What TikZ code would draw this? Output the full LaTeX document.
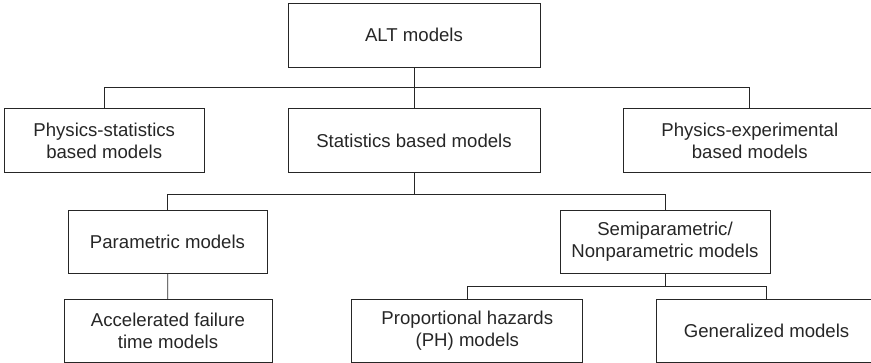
\documentclass[tikz,border=0pt]{standalone}
\usepackage{fontspec}
\setmainfont{Liberation Sans}
\usetikzlibrary{positioning, calc}

\begin{document}
\begin{tikzpicture}[
box/.style={draw=black!85, line width=0.8pt, align=center, inner sep=0pt, minimum height=64pt, text=black!85, font=\fontsize{18.6}{22}\selectfont},
lowbox/.style={box, minimum height=63pt},
link/.style={draw=black!85, line width=0.8pt}
]
\useasboundingbox (0,0) rectangle (871pt,-363pt);
\clip (0,0) rectangle (871pt,-363pt);

\node[box, minimum width=252pt] (alt) at (414pt,-35pt) {ALT models};

\node[box, minimum width=252pt, below=41pt of alt] (statbased) {Statistics based models};
\node[box, minimum width=200pt, left=83pt of statbased] (physstat) {Physics-statistics\\based models};
\node[box, minimum width=252pt, right=83pt of statbased] (physexp) {Physics-experimental\\based models};

\node[lowbox, minimum width=199pt, below=37pt of statbased, xshift=-246.5pt] (param) {Parametric models};
\node[lowbox, minimum width=210pt, below=37pt of statbased, xshift=251pt] (semi) {Semiparametric/\\Nonparametric models};

\node[lowbox, minimum width=208pt, below=25pt of param, xshift=0.5pt] (aft) {Accelerated failure\\time models};
\node[lowbox, minimum width=231pt, right=79pt of aft] (ph) {Proportional hazards\\(PH) models};
\node[lowbox, minimum width=220pt, right=73pt of ph] (gen) {Generalized models};

% bus lines
\coordinate (bus1) at ($(alt.south)!0.5!(statbased.north)$);
\coordinate (bus2) at ($(statbased.south)+(0,-21pt)$);
\coordinate (bus3) at ($(semi.south)!0.5!(semi.south |- ph.north)$);

\draw[link] (alt) -- (statbased);
\draw[link] (physstat.north) |- (bus1) -| (physexp.north);

\draw[link] (statbased.south) -- (bus2);
\draw[link] (param.north) |- (bus2) -| (semi.north);
\draw[link] (param) -- (aft);

\draw[link] (semi.south) -- (bus3);
\draw[link] (ph.north) |- (bus3) -| (gen.north);

\end{tikzpicture}
\end{document}
